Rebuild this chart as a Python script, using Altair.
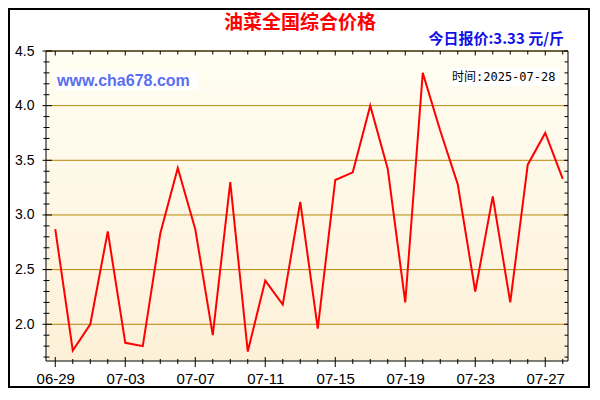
import altair as alt
import pandas as pd
import numpy as np

dates = ["06-29", "06-30", "07-01", "07-02", "07-03", "07-04", "07-05", "07-06",
         "07-07", "07-08", "07-09", "07-10", "07-11", "07-12", "07-13", "07-14",
         "07-15", "07-16", "07-17", "07-18", "07-19", "07-20", "07-21", "07-22",
         "07-23", "07-24", "07-25", "07-26", "07-27", "07-28"]
prices = [2.87, 1.76, 2.00, 2.85, 1.83, 1.80, 2.83, 3.43, 2.87, 1.90,
          3.30, 1.75, 2.40, 2.18, 3.12, 1.96, 3.32, 3.39, 4.00, 3.42,
          2.20, 4.30, 3.77, 3.28, 2.30, 3.17, 2.20, 3.46, 3.75, 3.33]
y_major = [2.0, 2.5, 3.0, 3.5, 4.0, 4.5]
y_minor = [round(v, 1) for v in np.arange(1.7, 4.45, 0.1) if round(v, 1) not in y_major]
x_major = [0, 4, 8, 12, 16, 20, 24, 28]
x_minor = [i for i in range(len(dates)) if i not in x_major]

title_text = "油菜全国综合价格"
quote_text = "今日报价:3.33 元/斤"
site_text = "www.cha678.com"
time_text = "时间:2025-07-28"

W, H = 522, 310
df = pd.DataFrame({"idx": list(range(len(dates))), "date": dates, "price": prices})

xscale = alt.Scale(domain=[-0.53, 29.3], nice=False, zero=False)
yscale = alt.Scale(domain=[1.664, 4.5], nice=False, zero=False)

label_expr = "[" + ",".join("'%s'" % d for d in dates) + "][datum.value]"

xaxis = alt.Axis(values=x_major, labelExpr=label_expr, title=None, grid=False,
                 ticks=False, tickSize=0, domain=False, labelFont="Liberation Sans",
                 labelFontSize=15, labelColor="#000000", labelPadding=10)
yaxis = alt.Axis(values=y_major, format=".1f", title=None, grid=False,
                 ticks=False, tickSize=0, domain=False, labelFont="Liberation Sans",
                 labelFontSize=14, labelColor="#000000", labelPadding=12)

one = pd.DataFrame({"a": [0]})

bg = alt.Chart(one).mark_rect(
    color=alt.Gradient(gradient="linear",
                       stops=[alt.GradientStop(color="#FFFEF2", offset=0),
                              alt.GradientStop(color="#FDF0D8", offset=1)],
                       x1=0, x2=0, y1=0, y2=1)
).encode(x=alt.value(0), x2=alt.value(W), y=alt.value(0), y2=alt.value(H))

grid = alt.Chart(pd.DataFrame({"v": y_major})).mark_rule(color="#B8860B", strokeWidth=1).encode(
    y=alt.Y("v:Q", scale=yscale, axis=yaxis), x=alt.value(0), x2=alt.value(W))

line = alt.Chart(df).mark_line(color="#FF0000", strokeWidth=2).encode(
    x=alt.X("idx:Q", scale=xscale, axis=xaxis),
    y=alt.Y("price:Q", scale=yscale, axis=yaxis),
)

def yticks(vals, x1, x2):
    return alt.Chart(pd.DataFrame({"v": vals})).mark_rule(color="black", strokeWidth=1).encode(
        y=alt.Y("v:Q", scale=yscale, axis=yaxis), x=alt.value(x1), x2=alt.value(x2))

def xticks(vals, y1, y2):
    return alt.Chart(pd.DataFrame({"v": vals})).mark_rule(color="black", strokeWidth=1).encode(
        x=alt.X("v:Q", scale=xscale, axis=xaxis), y=alt.value(y1), y2=alt.value(y2))

ticks = [
    yticks(y_major, -3.5, 6), yticks(y_minor, -2.5, 3.5),
    yticks(y_major, W - 4, W), yticks(y_minor, W - 3.5, W),
    xticks(x_major, H - 4, H + 6), xticks(x_minor, H - 2, H + 3),
    xticks(x_major, 0, 4.5), xticks(x_minor, 0, 3.5),
]

frame = alt.Chart(one).mark_rect(filled=False, stroke="black", strokeWidth=1).encode(
    x=alt.value(0), x2=alt.value(W), y=alt.value(0), y2=alt.value(H))

outer = alt.Chart(one).mark_rect(filled=False, stroke="black", strokeWidth=2).encode(
    x=alt.value(-37), x2=alt.value(W + 21), y=alt.value(-42), y2=alt.value(H + 26))

site_box = alt.Chart(one).mark_rect(color="white").encode(
    x=alt.value(9), x2=alt.value(151), y=alt.value(20), y2=alt.value(39))
site = alt.Chart(pd.DataFrame({"t": [site_text]})).mark_text(
    align="left", baseline="middle", font="Liberation Sans", fontSize=16, fontWeight="bold",
    color="#5A6EF0").encode(text="t:N", x=alt.value(11), y=alt.value(30))

time_box = alt.Chart(one).mark_rect(color="white").encode(
    x=alt.value(403), x2=alt.value(513), y=alt.value(17), y2=alt.value(35))
timet = alt.Chart(pd.DataFrame({"t": [time_text]})).mark_text(
    align="left", baseline="middle", font="DejaVu Sans Mono, Noto Sans CJK SC", fontSize=12,
    color="#000000").encode(text="t:N", x=alt.value(406), y=alt.value(26))

title = alt.Chart(pd.DataFrame({"t": [title_text]})).mark_text(
    align="center", baseline="middle", font="Noto Sans CJK SC", fontSize=19, fontWeight="bold",
    color="#FF0000").encode(text="t:N", x=alt.value(254), y=alt.value(-28))

quote = alt.Chart(pd.DataFrame({"t": [quote_text]})).mark_text(
    align="right", baseline="middle", font="Noto Sans CJK SC", fontSize=15, fontWeight="bold",
    color="#1010E8").encode(text="t:N", x=alt.value(518), y=alt.value(-12))

chart = alt.layer(bg, grid, line, *ticks, frame, site_box, site, time_box, timet, title, quote, outer
).properties(
    width=W, height=H, autosize=alt.AutoSizeParams(type="none"),
    padding={"left": 38, "top": 43, "right": 22, "bottom": 27},
    background="white",
).configure_view(stroke=None)

chart.save("out.html", embed_options={"renderer": "svg", "actions": False})
